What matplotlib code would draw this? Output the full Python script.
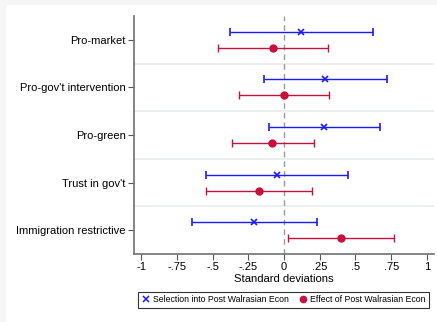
import matplotlib.pyplot as plt
import matplotlib.patches as mpatches
import numpy as np

plt.rcParams['font.family'] = ['Liberation Sans', 'DejaVu Sans']

outcomes = ['Pro-market', "Pro-gov't intervention", 'Pro-green', "Trust in gov't", 'Immigration restrictive']

# selection estimates with 95% CI
sel_coef = [0.12, 0.287, 0.28, -0.052, -0.21]
sel_lo = [-0.381, -0.143, -0.108, -0.549, -0.647]
sel_hi = [0.621, 0.722, 0.670, 0.451, 0.231]

# treatment effect estimates with 95% CI
eff_coef = [-0.077, 0.0, -0.082, -0.175, 0.402]
eff_lo = [-0.465, -0.318, -0.367, -0.549, 0.028]
eff_hi = [0.308, 0.317, 0.208, 0.196, 0.773]

xticks = [-1, -0.75, -0.5, -0.25, 0, 0.25, 0.5, 0.75, 1]
xticklabels = ['-1', '-.75', '-.5', '-.25', '0', '.25', '.5', '.75', '1']

blue = '#1a1aff'
red = '#c8103c'

fig = plt.figure(figsize=(4.37, 3.22), dpi=100)
fig.patch.set_facecolor('#f6f6f6')
fig.patches.append(mpatches.Rectangle((6 / 437, 0), 1, 1 - 5 / 322, transform=fig.transFigure,
                                      facecolor='white', edgecolor='none', zorder=-10))

ax = fig.add_axes([134 / 437, 1 - 254 / 322, 300 / 437, 238 / 322])
ax.set_facecolor('white')

pos = np.arange(1, len(outcomes) + 1)
off = 0.17

sel = np.array(sel_coef)
eff = np.array(eff_coef)
ax.errorbar(sel, pos - off,
            xerr=[sel - np.array(sel_lo), np.array(sel_hi) - sel],
            fmt='x', color=blue, ecolor=blue, elinewidth=1, capsize=3, capthick=1,
            markersize=4.5, markeredgewidth=1.2, zorder=3)
ax.errorbar(eff, pos + off,
            xerr=[eff - np.array(eff_lo), np.array(eff_hi) - eff],
            fmt='o', color=red, ecolor=red, elinewidth=1, capsize=3, capthick=1,
            markersize=5, zorder=3)

# group separators and zero reference line
for y in pos[:-1] + 0.5:
    ax.axhline(y, color='#e8eced', lw=1.2, zorder=1)
ax.axvline(0, color='#999999', lw=1, ls=(0, (4, 3)), zorder=2)

ax.set_xlim(-1.05, 1.05)
ax.set_ylim(5.5, 0.5)
ax.set_yticks(pos)
ax.set_yticklabels(outcomes, fontsize=8)
ax.set_xticks(xticks)
ax.set_xticklabels(xticklabels, fontsize=8)
ax.set_xlabel('Standard deviations', fontsize=8.1, labelpad=1.5)

for side in ['top', 'right']:
    ax.spines[side].set_visible(False)
for side in ['left', 'bottom']:
    ax.spines[side].set_color('#707070')
    ax.spines[side].set_linewidth(1.2)
ax.tick_params(axis='both', direction='out', length=4, width=0.8, color='#555555', pad=2)

handles = [
    plt.Line2D([], [], marker='x', color=blue, ls='none', markersize=4, markeredgewidth=1.1),
    plt.Line2D([], [], marker='o', color=red, ls='none', markersize=4.5),
]
leg = fig.legend(handles, ['Selection into Post Walrasian Econ', 'Effect of Post Walrasian Econ'],
                 loc='center', bbox_to_anchor=(283.5 / 437, 1 - 300 / 322), ncol=2,
                 fontsize=6.3, frameon=True, fancybox=False, handletextpad=0.2,
                 columnspacing=1.0, borderpad=0.4, handlelength=1.2)
leg.get_frame().set_edgecolor('black')
leg.get_frame().set_linewidth(0.8)

fig.savefig('out.png', dpi=100, facecolor=fig.get_facecolor())
